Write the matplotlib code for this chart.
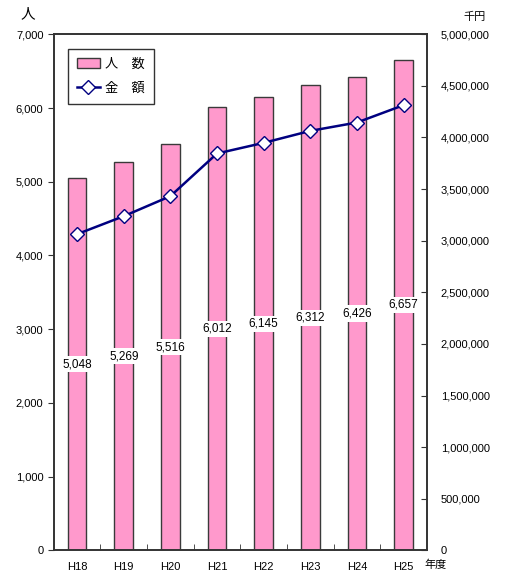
import numpy as np
import matplotlib.pyplot as plt
from matplotlib.ticker import FuncFormatter, FixedLocator

plt.rcParams['font.family'] = ['Liberation Sans', 'Noto Sans CJK JP', 'DejaVu Sans']

years = ['H18', 'H19', 'H20', 'H21', 'H22', 'H23', 'H24', 'H25']
people = [5048, 5269, 5516, 6012, 6145, 6312, 6426, 6657]
amount = [3064000, 3238000, 3432000, 3845000, 3948000, 4064000, 4145000, 4313000]

fig = plt.figure(figsize=(5.13, 5.71), dpi=100)
ax = fig.add_axes([0.105, 0.036, 0.727, 0.904])
ax2 = ax.twinx()

x = np.arange(len(years))
ax.bar(x, people, width=0.4, color='#ff99cc', edgecolor='#3a3a3a', linewidth=1,
       label='人\u3000数', zorder=2)
for xi, v in zip(x, people):
    ax.text(xi, v / 2, f'{v:,}', ha='center', va='center', fontsize=8.5,
            bbox=dict(facecolor='white', edgecolor='none', pad=1.5), zorder=3)

ax2.plot(x, amount, color='#000080', lw=1.8, marker='D', markersize=7,
         markerfacecolor='white', markeredgecolor='#000080', markeredgewidth=1,
         label='金\u3000額', zorder=4)

ax.set_xlim(-0.5, len(years) - 0.5)
ax.set_ylim(0, 7000)
ax2.set_ylim(0, 5000000)
ax.set_yticks(range(0, 7001, 1000))
ax2.set_yticks(range(0, 5000001, 500000))
fmt = FuncFormatter(lambda v, p: f'{int(v):,}')
ax.yaxis.set_major_formatter(fmt)
ax2.yaxis.set_major_formatter(fmt)

ax.set_xticks(x)
ax.set_xticklabels(years)
ax.xaxis.set_minor_locator(FixedLocator(np.arange(0.5, len(years) - 1, 1)))
ax.tick_params(axis='x', which='major', length=0, labelsize=8, pad=8)
ax.tick_params(axis='x', which='minor', direction='in', length=4, color='#333333')
ax.tick_params(axis='y', direction='out', length=4, labelsize=8, color='#333333')
ax2.tick_params(axis='y', direction='in', length=4, labelsize=8, color='#333333', pad=10)

for a in (ax, ax2):
    for s in a.spines.values():
        s.set_color('#333333')
        s.set_linewidth(1.2)

ax.set_zorder(ax2.get_zorder() - 1)
ax2.patch.set_visible(False)

h1, l1 = ax.get_legend_handles_labels()
h2, l2 = ax2.get_legend_handles_labels()
leg = ax2.legend(h1 + h2, l1 + l2, loc='upper left', bbox_to_anchor=(0.038, 0.971),
                 fancybox=False, edgecolor='#333333', framealpha=1, fontsize=9.5,
                 handlelength=1.7, handletextpad=0.4, borderpad=0.7,
                 labelspacing=0.9, borderaxespad=0)
leg.get_frame().set_linewidth(1)

fig.text(28 / 513, 1 - 14 / 571, '人', ha='center', va='center', fontsize=10.5)
fig.text(475 / 513, 1 - 17 / 571, '千円', ha='center', va='center', fontsize=8)
fig.text(436 / 513, 1 - 565 / 571, '年度', ha='center', va='center', fontsize=8)

fig.savefig('out.png', dpi=100)
